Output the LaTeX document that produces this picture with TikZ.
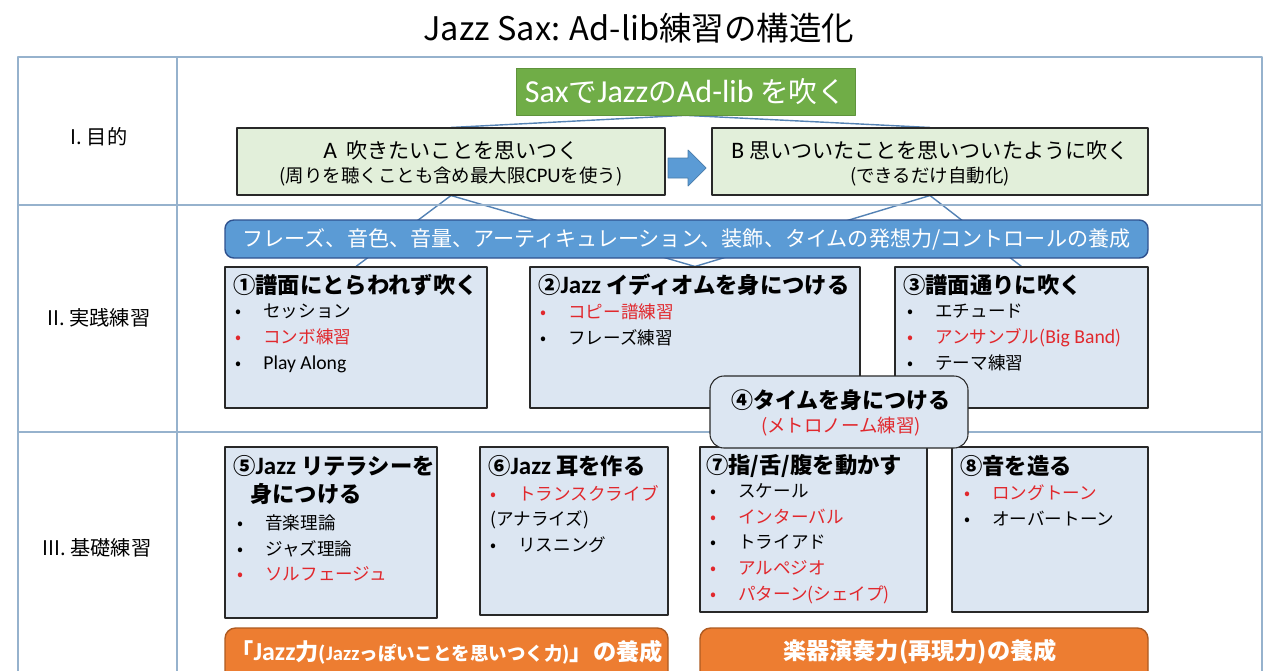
\documentclass[tikz,border=0pt]{standalone}
\usepackage{fontspec}
\setmainfont{Noto Sans CJK JP}
\newfontfamily\lat{Carlito}[Scale=1.12]
\usetikzlibrary{backgrounds}
\definecolor{tabline}{RGB}{150,178,205}
\definecolor{conline}{RGB}{84,130,180}
\definecolor{goalgreen}{RGB}{112,173,71}
\definecolor{palegreen}{RGB}{226,239,218}
\definecolor{barblue}{RGB}{91,155,213}
\definecolor{bardark}{RGB}{47,82,143}
\definecolor{paleblue}{RGB}{220,230,242}
\definecolor{boxline}{RGB}{40,40,40}
\definecolor{jred}{RGB}{225,40,45}
\definecolor{orangebar}{RGB}{237,125,49}
\definecolor{orangedark}{RGB}{174,90,33}
\newcommand\la[1]{{\lat #1}}
\newcommand\itm[1]{\makebox[0.56cm][l]{\textbullet}#1}
\newcommand\ritm[1]{\textcolor{jred}{\itm{#1}}}
\begin{document}
\begin{tikzpicture}[x=0.02cm, y=-0.02cm, line join=round,
  size/.style 2 args={minimum width=#1*0.02cm, minimum height=#2*0.02cm},
  tab/.style={draw=tabline, line width=0.8pt},
  link/.style={draw=conline, line width=0.8pt},
  goal/.style={fill=goalgreen, draw=goalgreen!85!black, inner sep=0, text=white, font=\fontsize{16.3}{20}\selectfont},
  aim/.style={draw=boxline, fill=palegreen, inner sep=0, line width=0.6pt},
  aimtop/.style={inner sep=0, font=\fontsize{12}{14}\selectfont},
  aimsub/.style={inner sep=0, font=\fontsize{10.5}{12}\selectfont},
  bar/.style={draw=bardark, fill=barblue, rounded corners=5pt, inner sep=0, line width=0.8pt, text=white, font=\fontsize{12}{14}\selectfont},
  prac/.style={draw=boxline, fill=paleblue, inner sep=0, line width=0.6pt},
  ttl/.style={anchor=west, inner sep=0, font=\fontsize{12.7}{16}\selectfont\bfseries},
  lst/.style={anchor=west, inner sep=0, align=left, font=\fontsize{10}{14.6}\selectfont},
  rowlabel/.style={inner sep=0, font=\fontsize{11.5}{13}\selectfont},
  result/.style={draw=orangedark, fill=orangebar, rounded corners=6pt, inner sep=0, line width=0.8pt},
  resulttext/.style={inner sep=0, text=white, font=\fontsize{13.2}{15}\selectfont\bfseries}]
\useasboundingbox (0,0) rectangle (1280,670);
% 表
\draw[tab] (18,700) -- (18,57) -- (1262,57) -- (1262,700);
\draw[tab] (177,57) -- (177,700);
\draw[tab] (18,205) -- (1262,205);
\draw[tab] (18,432) -- (1262,432);
\node (title) at (639,28) [font=\fontsize{18.5}{21}\selectfont] {Jazz Sax: Ad-lib練習の構造化};
\node (r1) [rowlabel] at (99,137) {I. 目的};
\node (r2) [rowlabel] at (99,318) {II. 実践練習};
\node (r3) [rowlabel] at (97,548) {III. 基礎練習};
% 目的
\node (goal) [goal, size={339}{47}] at (685.5,91.5) {\la{Sax}で\la{Jazz}の\la{Ad-lib} を吹く};
\node (ideaA) [aim, size={428}{67}] at (451,161.5) {};
\node (ideaAt) [aimtop] at (451,150) {\la{A}\ \ 吹きたいことを思いつく};
\node (ideaAs) [aimsub] at (451,177) {(周りを聴くことも含め最大限\la{CPU}を使う)};
\node (ideaB) [aim, size={436}{67}] at (930,161.5) {};
\node (ideaBt) [aimtop] at (930,150) {\la{B} 思いついたことを思いついたように吹く};
\node (ideaBs) [aimsub] at (930,177) {(できるだけ自動化)};
\filldraw[fill=barblue, draw=barblue!80!black, line width=0.4pt]
  (668,158) -- (688,158) -- (688,150) -- (706,168) -- (688,186) -- (688,178) -- (668,178) -- cycle;
% 実践練習
\node (skill) [bar, size={923}{38}] at (686.5,239) {フレーズ、音色、音量、アーティキュレーション、装飾、タイムの発想力/コントロールの養成};
\node (free) [prac, size={262}{141}] at (356,337.5) {};
\node (freet) [ttl] at (233,285) {①譜面にとらわれず吹く};
\node (freel) [lst] at (235,338.5) {\itm{セッション}\\\ritm{コンボ練習}\\\itm{\la{Play Along}}};
\node (idiom) [prac, size={330}{141}] at (695,337.5) {};
\node (idiomt) [ttl] at (538,285) {②\la{Jazz} イディオムを身につける};
\node (idioml) [lst] at (540,325) {\ritm{コピー譜練習}\\\itm{フレーズ練習}};
\node (score) [prac, size={253}{141}] at (1021.5,337.5) {};
\node (scoret) [ttl] at (903,285) {③譜面通りに吹く};
\node (scorel) [lst] at (907,337.5) {\itm{エチュード}\\\ritm{アンサンブル(\la{Big Band})}\\\itm{テーマ練習}};
% 基礎練習
\node (lit) [prac, size={212}{171}] at (331,532.5) {};
\node (litt) [ttl, align=left] at (233,480) {⑤\la{Jazz} リテラシーを\\\hspace*{0.34cm}身につける};
\node (litl) [lst] at (237,548) {\itm{音楽理論}\\\itm{ジャズ理論}\\\ritm{ソルフェージュ}};
\node (ear) [prac, size={188}{168}] at (574,531) {};
\node (eart) [ttl] at (488,466) {⑥\la{Jazz} 耳を作る};
\node (earl) [lst] at (490,519) {\ritm{トランスクライブ}\\(アナライズ)\\\itm{リスニング}};
\node (tech) [prac, size={227}{165}] at (813.5,529.5) {};
\node (techt) [ttl] at (706,466) {⑦指/舌/腹を動かす};
\node (techl) [lst] at (710,543.5) {\itm{スケール}\\\ritm{インターバル}\\\itm{トライアド}\\\ritm{アルペジオ}\\\ritm{パターン(シェイプ)}};
\node (tone) [prac, size={196}{165}] at (1050,529.5) {};
\node (tonet) [ttl] at (960,466) {⑧音を造る};
\node (tonel) [lst] at (964,505.5) {\ritm{ロングトーン}\\\itm{オーバートーン}};
\node (time) [prac, rounded corners=8pt, size={258}{72}] at (839,412) {};
\node (timet) [inner sep=0, font=\fontsize{12.5}{16}\selectfont\bfseries] at (841,400) {④タイムを身につける};
\node (times) [inner sep=0, text=jred, font=\fontsize{10.5}{12}\selectfont] at (841,427) {(メトロノーム練習)};
\node (jazzpow) [result, size={443}{70}] at (446.5,663) {};
\node (jazzpowt) [resulttext] at (446.5,652) {「\la{Jazz}力{\fontsize{10.5}{12}\selectfont(\la{Jazz}っぽいことを思いつく力)}」の養成};
\node (playpow) [result, size={448}{70}] at (924,663) {};
\node (playpowt) [resulttext] at (920,652) {楽器演奏力(再現力)の養成};
\begin{scope}[on background layer]
\draw[link] (goal.south) -- (ideaA.north);
\draw[link] (goal.south) -- (ideaB.north);
\draw[link] (ideaA.south) -- (free.north);
\draw[link] (ideaA.south) -- (idiom.north);
\draw[link] (ideaB.south) -- (idiom.north);
\draw[link] (ideaB.south) -- (score.north);
\end{scope}
\end{tikzpicture}
\end{document}
